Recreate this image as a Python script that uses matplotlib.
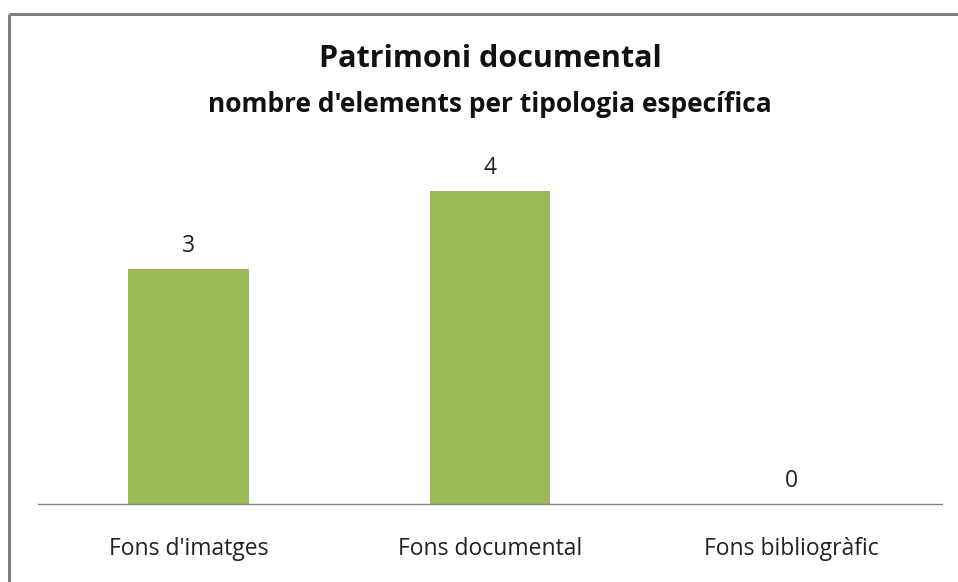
import matplotlib
matplotlib.use('Agg')
import matplotlib.pyplot as plt
from matplotlib.lines import Line2D

categories = ["Fons d'imatges", "Fons documental", "Fons bibliogràfic"]
values = [3, 4, 0]

plt.rcParams['font.family'] = ['Open Sans', 'DejaVu Sans']

W, H = 958, 582
fig = plt.figure(figsize=(W / 100, H / 100), dpi=100)
fig.patch.set_facecolor('white')

# chart frame (only left and top edges visible)
fig.add_artist(Line2D([9 / W, 9 / W], [0, 1 - 14 / H], transform=fig.transFigure,
                      color='#808080', lw=2.2, solid_capstyle='butt'))
fig.add_artist(Line2D([9 / W, 1], [1 - 14 / H, 1 - 14 / H], transform=fig.transFigure,
                      color='#808080', lw=2.2, solid_capstyle='butt'))

ax = fig.add_axes([38 / W, 78 / H, 904 / W, (504 - 112.5) / H])
x = range(len(categories))
bars = ax.bar(x, values, width=0.4, color='#9BBB59')
ax.set_xlim(-0.5, 2.5)
ax.set_ylim(0, 5)

for spine in ['left', 'right', 'top']:
    ax.spines[spine].set_visible(False)
ax.spines['bottom'].set_color('#868686')
ax.spines['bottom'].set_linewidth(1.0)
ax.set_yticks([])
ax.set_xticks(list(x))
ax.set_xticklabels(categories, fontsize=16.5, color='#222222')
ax.tick_params(axis='x', length=0, pad=24)

for xi, v in zip(x, values):
    ax.annotate(str(v), (xi, v), xytext=(0, 8), textcoords='offset points',
                ha='center', va='bottom', fontsize=16.5, color='#222222')

fig.text(490 / W, 1 - 59 / H, 'Patrimoni documental', ha='center', va='center',
         fontsize=22, fontweight='bold', color='#111111')
fig.text(490 / W, 1 - 104 / H, "nombre d'elements per tipologia específica", ha='center',
         va='center', fontsize=19, fontweight='bold', color='#111111')

fig.savefig('out.png', dpi=100)
